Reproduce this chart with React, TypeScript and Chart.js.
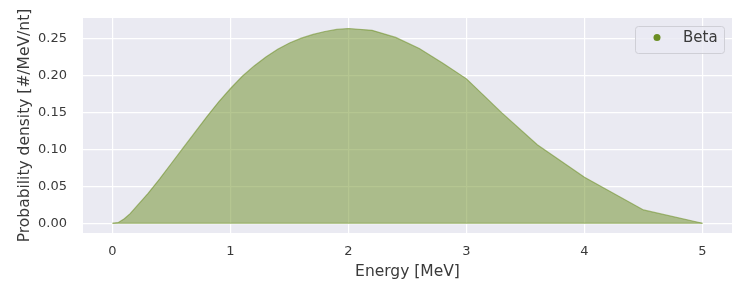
import React, { useEffect, useRef } from "react";
import { Chart, registerables } from "chart.js";

Chart.register(...registerables);

const energy = [0, 0.05, 0.1, 0.15, 0.2, 0.3, 0.4, 0.5, 0.6, 0.7, 0.8, 0.9, 1.0, 1.1, 1.2, 1.3, 1.4, 1.5, 1.6, 1.7, 1.8, 1.9, 2.0, 2.2, 2.4, 2.6, 2.8, 3.0, 3.3, 3.6, 4.0, 4.5, 5.0];
const density = [0, 0.001, 0.006, 0.013, 0.022, 0.04, 0.06, 0.081, 0.102, 0.123, 0.144, 0.164, 0.182, 0.1985, 0.2125, 0.2245, 0.235, 0.2435, 0.25, 0.255, 0.259, 0.2618, 0.263, 0.2605, 0.251, 0.236, 0.216, 0.195, 0.149, 0.106, 0.062, 0.018, 0];
const xTicks = [0, 1, 2, 3, 4, 5];
const yTicks = [0, 0.05, 0.1, 0.15, 0.2, 0.25];
const seriesLabel = "Beta";

const FONT = "'DejaVu Sans', sans-serif";
const TEXT = "#3a3a3a";

export default function App() {
  const ref = useRef<HTMLCanvasElement>(null);
  useEffect(() => {
    const canvas = ref.current!;
    const bgPlugin = {
      id: "bg",
      beforeDraw(chart: any) {
        const { ctx, chartArea: a } = chart;
        ctx.save();
        ctx.fillStyle = "#ffffff";
        ctx.fillRect(0, 0, chart.width, chart.height);
        ctx.fillStyle = "#eaeaf2";
        ctx.fillRect(a.left, a.top, a.right - a.left, a.bottom - a.top);
        ctx.restore();
      },
    };
    const legendPlugin = {
      id: "customLegend",
      afterDraw(chart: any) {
        const { ctx, chartArea: a } = chart;
        const w = 89, h = 27;
        const x = a.right - 8 - w, y = a.top + 8;
        ctx.save();
        ctx.beginPath();
        (ctx as any).roundRect(x + 0.5, y + 0.5, w, h, 3);
        ctx.fillStyle = "rgba(234,234,242,0.8)";
        ctx.fill();
        ctx.strokeStyle = "#cfcfd6";
        ctx.lineWidth = 1;
        ctx.stroke();
        ctx.beginPath();
        ctx.arc(x + 22, y + 11.5, 3.5, 0, Math.PI * 2);
        ctx.fillStyle = "#6b8e23";
        ctx.fill();
        ctx.fillStyle = TEXT;
        ctx.font = "15px " + FONT;
        ctx.textBaseline = "middle";
        ctx.textAlign = "left";
        ctx.fillText(seriesLabel, x + 48, y + 12);
        ctx.restore();
      },
    };
    const chart = new Chart(canvas, {
      type: "line",
      data: {
        datasets: [
          {
            label: seriesLabel,
            data: energy.map((e, i) => ({ x: e, y: density[i] })),
            borderColor: "rgba(107,142,35,0.55)",
            backgroundColor: "rgba(107,142,35,0.5)",
            borderWidth: 1.2,
            fill: "origin",
            pointRadius: 0,
            tension: 0,
          },
          {
            label: "base",
            data: [
              { x: energy[0], y: 0 },
              { x: energy[energy.length - 1], y: 0 },
            ],
            borderColor: "rgba(107,142,35,0.55)",
            borderWidth: 1.2,
            fill: false,
            pointRadius: 0,
          },
        ],
      },
      options: {
        animation: false,
        responsive: false,
        layout: { padding: { left: 0, right: 18, top: 18, bottom: 0 } },
        plugins: { legend: { display: false }, tooltip: { enabled: false } },
        scales: {
          x: {
            type: "linear",
            min: -0.25,
            max: 5.25,
            afterFit(s: any) { s.height = 67; s.paddingLeft = 0; s.paddingRight = 0; },
            afterBuildTicks(s: any) { s.ticks = xTicks.map((v) => ({ value: v })); },
            grid: { color: "#ffffff", lineWidth: 1.2, drawTicks: false },
            border: { display: false },
            ticks: { color: TEXT, font: { family: FONT, size: 13 }, padding: 11, callback: (v: any) => String(v) },
            title: { display: true, text: "Energy [MeV]", color: TEXT, font: { family: FONT, size: 15.5 }, padding: { top: 0, bottom: 19 } },
          },
          y: {
            type: "linear",
            min: -0.0132,
            max: 0.2772,
            afterFit(s: any) { s.width = 83; s.paddingTop = 0; s.paddingBottom = 0; },
            afterBuildTicks(s: any) { s.ticks = yTicks.map((v) => ({ value: v })); },
            grid: { color: "#ffffff", lineWidth: 1.2, drawTicks: false },
            border: { display: false },
            ticks: { color: TEXT, font: { family: FONT, size: 13 }, padding: 16, callback: (v: any) => Number(v).toFixed(2) },
            title: { display: true, text: "Probability density [#/MeV/nt]", color: TEXT, font: { family: FONT, size: 15.5 }, padding: { top: 15.5, bottom: 0 } },
          },
        },
      },
      plugins: [bgPlugin, legendPlugin],
    });
    return () => chart.destroy();
  }, []);
  return (
    <div style={{ position: "fixed", left: 0, top: 0, width: 750, height: 300 }}>
      <canvas ref={ref} width={750} height={300} style={{ display: "block" }} />
    </div>
  );
}
